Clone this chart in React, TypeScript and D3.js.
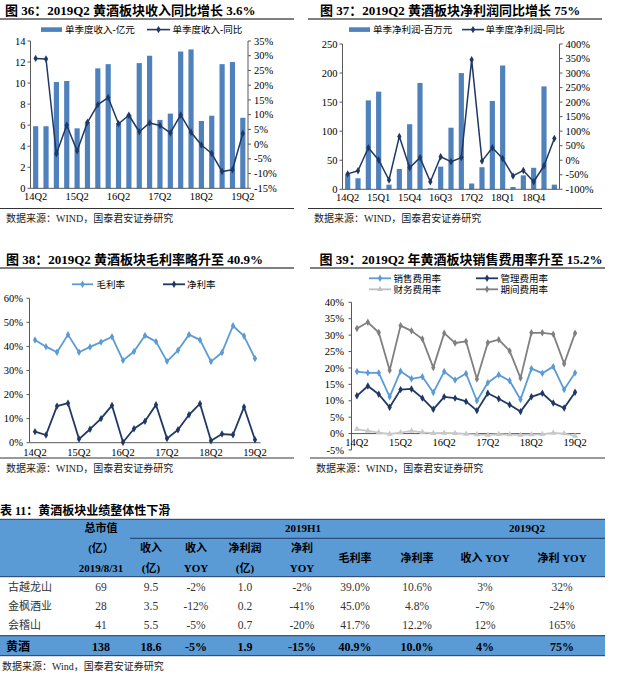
import * as d3 from 'd3';

const quarters = [
  '14Q2', '14Q3', '14Q4', '15Q1', '15Q2', '15Q3', '15Q4', '16Q1', '16Q2', '16Q3', '16Q4',
  '17Q1', '17Q2', '17Q3', '17Q4', '18Q1', '18Q2', '18Q3', '18Q4', '19Q1', '19Q2',
];

// fig 36: quarterly revenue (100m yuan) and yoy (%)
const revenue = [5.9, 5.9, 10.1, 10.2, 5.7, 6.3, 11.4, 11.8, 6.2, 7.0, 11.9, 12.6, 6.5, 7.1, 13.0, 13.2, 6.4, 6.9, 11.8, 12.0, 6.7];
const revenueYoy = [29.1, 28.9, -3.3, 6.4, -2.3, 7.4, 13.4, 15.8, 6.9, 9.8, 4.2, 7.2, 6.3, 3.8, 9.9, 4.0, -0.3, -3.2, -9.3, -8.7, 3.6];
const revenueTicks = [0, 2, 4, 6, 8, 10, 12, 14];
const revenueYoyTicks = [-15, -10, -5, 0, 5, 10, 15, 20, 25, 30, 35];

// fig 37: quarterly net profit (m yuan) and yoy (%)
const profit = [26, 19, 153, 168, 8, 35, 112, 183, 2, 39, 106, 200, 10, 38, 152, 213, 4, 24, 37, 177, 8];
const profitYoy = [-47, -36, 43, 1, -68, 82, -26, 9, -74, 12, -5, 9, 346, -3, 43, 6, -54, -35, -74, -19, 75];
const profitTicks = [0, 50, 100, 150, 200, 250];
const profitYoyTicks = [-100, -50, 0, 50, 100, 150, 200, 250, 300, 350, 400];

// fig 38: margins (%)
const grossMargin = [42.7, 39.9, 37.6, 44.9, 37.6, 39.8, 41.8, 44.0, 34.2, 37.9, 44.5, 42.0, 33.8, 38.4, 44.9, 42.7, 33.7, 37.5, 48.6, 44.3, 35.0];
const netMargin = [4.6, 3.2, 15.2, 16.4, 1.5, 5.6, 10.0, 15.5, 0.2, 5.8, 8.9, 15.8, 1.7, 5.4, 11.6, 16.2, 0.8, 3.6, 3.3, 14.8, 1.2];
const marginTicks = [0, 10, 20, 30, 40, 50, 60];

// fig 39: expense ratios (%)
const sellingRate = [18.9, 18.5, 18.5, 11.2, 19.0, 16.7, 17.3, 12.5, 18.9, 16.3, 18.3, 10.0, 15.5, 17.9, 16.1, 10.4, 19.8, 18.4, 20.4, 13.4, 18.5];
const adminRate = [11.5, 14.5, 12.0, 8.0, 13.4, 13.6, 10.8, 7.4, 11.2, 10.8, 9.8, 7.0, 12.3, 10.6, 8.8, 6.7, 11.2, 12.3, 9.3, 7.8, 12.6];
const financeRate = [1.3, 0.8, 0.3, -0.1, 0.3, 0.8, 0.4, 0.1, 0.2, 0.1, -0.1, -0.3, -0.4, -0.2, -0.3, -0.4, -0.3, -0.2, 0.2, 0.0, -0.7];
const periodRate = [32.0, 33.9, 30.8, 19.3, 32.9, 31.3, 28.8, 20.1, 30.6, 27.6, 28.1, 16.6, 27.7, 28.6, 25.2, 16.9, 30.7, 30.7, 30.3, 21.3, 30.6];
const expenseTicks = [-5, 0, 5, 10, 15, 20, 25, 30, 35, 40];

// table 11
const companies = ['古越龙山', '金枫酒业', '会稽山', '黄酒'];
const marketCap = ['69', '28', '41', '138'];
const h1Revenue = ['9.5', '3.5', '5.5', '18.6'];
const h1RevenueYoy = ['-2%', '-12%', '-5%', '-5%'];
const h1Profit = ['1.0', '0.2', '0.7', '1.9'];
const h1ProfitYoy = ['-2%', '-41%', '-20%', '-15%'];
const h1Gross = ['39.0%', '45.0%', '41.7%', '40.9%'];
const h1Net = ['10.6%', '4.8%', '12.2%', '10.0%'];
const q2RevenueYoy = ['3%', '-7%', '12%', '4%'];
const q2ProfitYoy = ['32%', '-24%', '165%', '75%'];

const SERIF = '"Liberation Serif", "Times New Roman", "Noto Sans CJK SC", serif';
const BAR = '#4f81bd';
const NAVY = '#1f3864';
const LIGHT = '#5b9bd5';
const AXIS = '#595959';

const diamond = d3.symbol().type(d3.symbolDiamond).size(16)() as string;
const triangle = d3.symbol().type(d3.symbolTriangle).size(16)() as string;

function bandX(range: [number, number]) {
  return d3.scaleBand<string>().domain(quarters).range(range).paddingInner(0.5).paddingOuter(0.25);
}

function Title({ x, y, text, x1, x2 }: { x: number; y: number; text: string; x1: number; x2: number }) {
  return (
    <g>
      <text x={x} y={y} fontSize={13} fontWeight={700} fill="#000">{text}</text>
      <line x1={x1} x2={x2} y1={y + 4.5} y2={y + 4.5} stroke="#000" strokeWidth={1} />
    </g>
  );
}

function Source({ y, x1, x2 }: { y: number; x1: number; x2: number }) {
  return (
    <g>
      <line x1={x1} x2={x2} y1={y - 10} y2={y - 10} stroke="#000" strokeWidth={0.8} />
      <text x={x1 + 6} y={y + 3.5} fontSize={10} fill="#222">数据来源：WIND，国泰君安证券研究</text>
    </g>
  );
}

function Series({ data, xs, y, color, marker, width = 1.6 }: {
  data: number[]; xs: (i: number) => number; y: d3.ScaleLinear<number, number>; color: string; marker: string; width?: number;
}) {
  const line = d3.line<number>().x((_, i) => xs(i)).y((d) => y(d));
  return (
    <g>
      <path d={line(data) ?? ''} fill="none" stroke={color} strokeWidth={width} strokeLinejoin="round" />
      {data.map((d, i) => (
        <path key={i} d={marker} transform={`translate(${xs(i)},${y(d)})`} fill={color} />
      ))}
    </g>
  );
}

function LeftAxis({ y, ticks, x, fmt, labelX }: {
  y: d3.ScaleLinear<number, number>; ticks: number[]; x: number; fmt: (v: number) => string; labelX: number;
}) {
  const [a, b] = d3.extent(ticks) as [number, number];
  return (
    <g>
      <line x1={x} x2={x} y1={y(a)} y2={y(b)} stroke={AXIS} />
      {ticks.map((t) => (
        <g key={t}>
          <line x1={x - 3} x2={x} y1={y(t)} y2={y(t)} stroke={AXIS} />
          <text x={labelX} y={y(t) + 3.6} textAnchor="end" fontSize={10.5}>{fmt(t)}</text>
        </g>
      ))}
    </g>
  );
}

function RightAxis({ y, ticks, x, fmt }: {
  y: d3.ScaleLinear<number, number>; ticks: number[]; x: number; fmt: (v: number) => string;
}) {
  const [a, b] = d3.extent(ticks) as [number, number];
  return (
    <g>
      <line x1={x} x2={x} y1={y(a)} y2={y(b)} stroke={AXIS} />
      {ticks.map((t) => (
        <g key={t}>
          <line x1={x} x2={x + 3} y1={y(t)} y2={y(t)} stroke={AXIS} />
          <text x={x + 6} y={y(t) + 3.6} fontSize={10.5}>{fmt(t)}</text>
        </g>
      ))}
    </g>
  );
}

function XLabels({ x, every, y }: { x: d3.ScaleBand<string>; every: number; y: number }) {
  return (
    <g>
      {quarters.map((q, i) =>
        i % every === 0 ? (
          <text key={q} x={(x(q) ?? 0) + x.bandwidth() / 2} y={y} textAnchor="middle" fontSize={10.5}>{q}</text>
        ) : null,
      )}
    </g>
  );
}

function ComboChart({ ox, title, barLabel, lineLabel, bars, yoy, barTicks, yoyTicks, every, top, bottom, left, right }: {
  ox: number; title: string; barLabel: string; lineLabel: string; bars: number[]; yoy: number[];
  barTicks: number[]; yoyTicks: number[]; every: number; top: number; bottom: number; left: number; right: number;
}) {
  const x = bandX([ox + left, ox + right]);
  const y = d3.scaleLinear().domain(d3.extent(barTicks) as [number, number]).range([bottom, top]);
  const y2 = d3.scaleLinear().domain(d3.extent(yoyTicks) as [number, number]).range([bottom, top]);
  const cx = (i: number) => (x(quarters[i]) ?? 0) + x.bandwidth() / 2;
  return (
    <g>
      <Title x={ox + (ox ? 12 : 5)} y={14.5} text={title} x1={ox} x2={ox + 294} />
      <rect x={ox + 41} y={27.3} width={21} height={4.6} fill={BAR} />
      <text x={ox + 65} y={32.6} fontSize={9.5}>{barLabel}</text>
      <line x1={ox + (ox ? 154 : 147)} x2={ox + (ox ? 176 : 170)} y1={29.6} y2={29.6} stroke={NAVY} strokeWidth={1.6} />
      <path d={diamond} transform={`translate(${ox + (ox ? 165 : 158.5)},29.6)`} fill={NAVY} />
      <text x={ox + (ox ? 177.5 : 172.5)} y={32.6} fontSize={9.5}>{lineLabel}</text>
      {bars.map((v, i) => (
        <rect key={i} x={x(quarters[i])} y={y(v)} width={x.bandwidth()} height={y(0) - y(v)} fill={BAR} />
      ))}
      <LeftAxis y={y} ticks={barTicks} x={ox + left} fmt={(v) => `${v}`} labelX={ox + left - 5} />
      <RightAxis y={y2} ticks={yoyTicks} x={ox + right} fmt={(v) => `${v}%`} />
      <line x1={ox + left} x2={ox + right} y1={y(0)} y2={y(0)} stroke={AXIS} />
      <Series data={yoy} xs={cx} y={y2} color={NAVY} marker={diamond} width={1.5} />
      <XLabels x={x} every={every} y={bottom + 12} />
      <Source y={218.5} x1={ox} x2={ox + 294} />
    </g>
  );
}

function MarginChart() {
  const x = bandX([29.5, 260.5]);
  const y = d3.scaleLinear().domain([0, 60]).range([442.7, 298.3]);
  const cx = (i: number) => (x(quarters[i]) ?? 0) + x.bandwidth() / 2;
  return (
    <g>
      <Title x={6} y={263.5} text="图 38：2019Q2 黄酒板块毛利率略升至 40.9%" x1={0} x2={294} />
      <line x1={72} x2={93} y1={284.3} y2={284.3} stroke={LIGHT} strokeWidth={1.8} />
      <path d={diamond} transform="translate(82.5,284.3)" fill={LIGHT} />
      <text x={96.5} y={287.6} fontSize={9.5}>毛利率</text>
      <line x1={163} x2={185} y1={284.3} y2={284.3} stroke={NAVY} strokeWidth={1.8} />
      <path d={diamond} transform="translate(174,284.3)" fill={NAVY} />
      <text x={187} y={287.6} fontSize={9.5}>净利率</text>
      <LeftAxis y={y} ticks={marginTicks} x={29.5} fmt={(v) => `${v}%`} labelX={23} />
      <line x1={29.5} x2={260.5} y1={y(0)} y2={y(0)} stroke={AXIS} />
      <Series data={grossMargin} xs={cx} y={y} color={LIGHT} marker={diamond} width={1.8} />
      <Series data={netMargin} xs={cx} y={y} color={NAVY} marker={diamond} width={1.8} />
      <XLabels x={x} every={4} y={455.5} />
      <Source y={468} x1={0} x2={294} />
    </g>
  );
}

function ExpenseChart() {
  const x = bandX([351.5, 580.5]);
  const y = d3.scaleLinear().domain([-5, 40]).range([450, 302.3]);
  const cx = (i: number) => (x(quarters[i]) ?? 0) + x.bandwidth() / 2;
  const legend = [
    { label: '销售费用率', color: LIGHT, marker: diamond, lx: 369, ly: 278.3 },
    { label: '管理费用率', color: NAVY, marker: diamond, lx: 476, ly: 278.3 },
    { label: '财务费用率', color: '#c0c0c0', marker: triangle, lx: 369, ly: 289.3 },
    { label: '期间费用率', color: '#808080', marker: diamond, lx: 476, ly: 289.3 },
  ];
  return (
    <g>
      <Title x={319.5} y={263.5} text="图 39：2019Q2 年黄酒板块销售费用率升至 15.2%" x1={310} x2={605} />
      {legend.map((l) => (
        <g key={l.label}>
          <line x1={l.lx} x2={l.lx + 22} y1={l.ly} y2={l.ly} stroke={l.color} strokeWidth={1.8} />
          <path d={l.marker} transform={`translate(${l.lx + 11},${l.ly})`} fill={l.color} />
          <text x={l.lx + 24.5} y={l.ly + 3.3} fontSize={9.5}>{l.label}</text>
        </g>
      ))}
      <LeftAxis y={y} ticks={expenseTicks} x={351.5} fmt={(v) => `${v}%`} labelX={344} />
      <line x1={351.5} x2={580.5} y1={y(0)} y2={y(0)} stroke={AXIS} />
      <Series data={financeRate} xs={cx} y={y} color="#c8c8c8" marker={triangle} width={1.8} />
      <Series data={periodRate} xs={cx} y={y} color="#808080" marker={diamond} width={1.8} />
      <Series data={sellingRate} xs={cx} y={y} color={LIGHT} marker={diamond} width={1.8} />
      <Series data={adminRate} xs={cx} y={y} color={NAVY} marker={diamond} width={1.8} />
      <XLabels x={x} every={4} y={445.5} />
      <Source y={468} x1={310} x2={605} />
    </g>
  );
}

function PerfTable() {
  const colX = [101, 151, 196, 245, 302, 355, 417, 485, 562];
  const columns = [marketCap, h1Revenue, h1RevenueYoy, h1Profit, h1ProfitYoy, h1Gross, h1Net, q2RevenueYoy, q2ProfitYoy];
  const rowY = [590.5, 609.5, 629, 650.5];
  const head2 = ['(亿）', '收入', '收入', '净利润', '净利'];
  const head3 = ['2019/8/31', '(亿)', 'YOY', '(亿)', 'YOY'];
  const headMid = ['毛利率', '净利率', '收入 YOY', '净利 YOY'];
  const hs = { fontSize: 11, fontWeight: 700, textAnchor: 'middle' as const };
  return (
    <g>
      <text x={0} y={515} fontSize={12} fontWeight={700}>表 11：黄酒板块业绩整体性下滑</text>
      <rect x={0} y={519.3} width={605} height={57.4} fill={LIGHT} />
      <rect x={0} y={635.7} width={605} height={20} fill={LIGHT} />
      <line x1={0} x2={605} y1={519.3} y2={519.3} stroke={NAVY} />
      <line x1={130} x2={605} y1={538.3} y2={538.3} stroke={NAVY} />
      <line x1={0} x2={605} y1={576.7} y2={576.7} stroke={NAVY} />
      <line x1={0} x2={605} y1={635.7} y2={635.7} stroke={NAVY} />
      <line x1={0} x2={605} y1={655.7} y2={655.7} stroke={NAVY} />
      <text x={colX[0]} y={532.3} {...hs}>总市值</text>
      <text x={303} y={532.3} {...hs}>2019H1</text>
      <text x={527} y={532.3} {...hs}>2019Q2</text>
      {head2.map((h, i) => (
        <text key={`h2${i}`} x={colX[i]} y={552.3} {...hs}>{h}</text>
      ))}
      {head3.map((h, i) => (
        <text key={`h3${i}`} x={colX[i]} y={571.7} {...hs}>{h}</text>
      ))}
      {headMid.map((h, i) => (
        <text key={`hm${i}`} x={colX[i + 5]} y={561.7} {...hs}>{h}</text>
      ))}
      {companies.map((c, r) => {
        const bold = r === companies.length - 1;
        const fs = bold ? 12 : 11.5;
        return (
          <g key={c} fontWeight={bold ? 700 : 400} fill={bold ? '#000' : '#333'}>
            <text x={bold ? 6 : 8} y={rowY[r]} fontSize={bold ? 12 : 11}>{c}</text>
            {columns.map((col, k) => (
              <text key={k} x={colX[k]} y={rowY[r]} fontSize={fs} textAnchor="middle">{col[r]}</text>
            ))}
          </g>
        );
      })}
      <text x={2} y={670} fontSize={10} fill="#222">数据来源：Wind，国泰君安证券研究</text>
    </g>
  );
}

export default function App() {
  return (
    <svg
      width={617}
      height={675}
      style={{ position: 'absolute', left: 0, top: 0, background: '#fff', fontFamily: SERIF }}
    >
      <ComboChart
        ox={0} title="图 36：2019Q2 黄酒板块收入同比增长 3.6%" barLabel="单季度收入-亿元" lineLabel="单季度收入-同比"
        bars={revenue} yoy={revenueYoy} barTicks={revenueTicks} yoyTicks={revenueYoyTicks} every={4}
        top={41} bottom={188.3} left={30.5} right={248}
      />
      <ComboChart
        ox={308} title="图 37：2019Q2 黄酒板块净利润同比增长 75%" barLabel="单季净利润-百万元" lineLabel="单季度净利润-同比"
        bars={profit} yoy={profitYoy} barTicks={profitTicks} yoyTicks={profitYoyTicks} every={3}
        top={44} bottom={189.3} left={34.5} right={251.5}
      />
      <MarginChart />
      <ExpenseChart />
      <PerfTable />
    </svg>
  );
}
